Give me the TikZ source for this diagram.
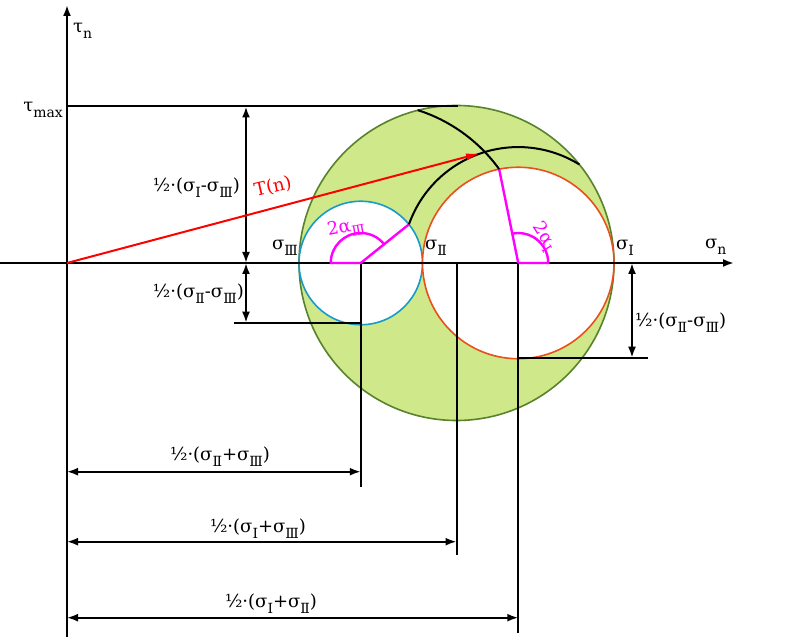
\documentclass[tikz,border=0pt]{standalone}
\usepackage{fontspec}
\setmainfont{DejaVu Serif}
\usetikzlibrary{arrows.meta}
\definecolor{circfill}{RGB}{206,232,138}
\definecolor{circline}{RGB}{88,130,44}
\definecolor{cblue}{RGB}{25,155,200}
\definecolor{corange}{RGB}{232,80,30}
\definecolor{magc}{RGB}{255,0,255}
\definecolor{redc}{RGB}{255,0,0}
\newcommand\lo[1]{\raisebox{-0.3em}{\fontsize{14}{15}\selectfont #1}}
\begin{document}
\begin{tikzpicture}[x=1pt,y=1pt,
  lbl/.style={inner sep=0pt, font=\fontsize{18}{20}\selectfont},
  blk/.style={line width=2pt},
  tipk/.tip={Latex[length=11pt,width=8pt]},
  dim/.style={line width=2pt, tipk-tipk},
  axis/.style={line width=2pt, -tipk},
  mag/.style={magc, line width=2.4pt},
  circ/.style={line width=1.6pt}]
\useasboundingbox (0,0) rectangle (800,639);
% key points
\coordinate (O) at (67,376);
\coordinate (C1) at (360.75,376);
\coordinate (C2) at (456.5,376);
\coordinate (C3) at (518.25,376);
% circles
\fill[circfill, draw=circline, circ] (C2) circle (157.5);
\fill[white, draw=cblue, circ] (C1) circle (61.75);
\fill[white, draw=corange, circ] (C3) circle (95.75);
% axes
\coordinate (xs) at (0,376);
\coordinate (xe) at (734,376);
\coordinate (ys) at (67,2);
\coordinate (ye) at (67,634);
\draw[axis] (xs) -- (xe);
\draw[axis] (ys) -- (ye);
% tau max line
\coordinate (tm) at (67,532.5);
\coordinate (tme) at (458,532.5);
\draw[blk] (tm) -- (tme);
% left vertical dimensions
\coordinate (d1t) at (246,532.5);
\coordinate (d1b) at (246,376);
\coordinate (d2b) at (246,316.3);
\draw[dim] (d1t) -- (d1b);
\draw[dim] (d1b) -- (d2b);
\coordinate (h1s) at (234,316.3);
\coordinate (h1e) at (360.75,316.3);
\draw[blk] (h1s) -- (h1e);
% right vertical dimension
\coordinate (d3t) at (632,376);
\coordinate (d3b) at (632,281.3);
\draw[dim] (d3t) -- (d3b);
\coordinate (h2s) at (518.25,281.3);
\coordinate (h2e) at (648,281.3);
\draw[blk] (h2s) -- (h2e);
% vertical drop lines
\coordinate (v1) at (360.75,152.3);
\coordinate (v2) at (456.5,84);
\coordinate (v3) at (518.25,6);
\draw[blk] (C1) -- (v1);
\draw[blk] (C2) -- (v2);
\draw[blk] (C3) -- (v3);
% horizontal dimensions
\coordinate (a1) at (67,167.3);
\coordinate (b1) at (360.75,167.3);
\coordinate (a2) at (67,97.3);
\coordinate (b2) at (456.5,97.3);
\coordinate (a3) at (67,21.3);
\coordinate (b3) at (518.25,21.3);
\draw[dim] (a1) -- (b1);
\draw[dim] (a2) -- (b2);
\draw[dim] (a3) -- (b3);
% construction points
\path (C1) ++(38.7:61.75) coordinate (P3);
\path (C3) ++(101.5:95.75) coordinate (P1);
\coordinate (Q) at (484.86,487.02);
% magenta angles
\draw[mag] (C1) -- (P3);
\draw[mag] (C1) -- ++(-30,0) arc[start angle=180, end angle=38.7, radius=30];
\draw[mag] (C3) -- (P1);
\draw[mag] (C3) -- ++(30,0) arc[start angle=0, end angle=101.5, radius=30];
% black arcs
\draw[blk] (P3) arc[start angle=160.55, end angle=58.16, radius=115.93];
\draw[blk] (P1) arc[start angle=35.79, end angle=72.34, radius=160.46];
% red vector
\draw[redc, line width=2pt, -{Latex[length=14pt,width=7pt]}, shorten >=5pt] (O) -- (Q);
% labels
\node[lbl, anchor=base west] (taun) at (73,606) {τ\lo{n}};
\node[lbl, anchor=base east] (taumax) at (63,527) {τ\lo{max}};
\node[lbl, anchor=base west] (sign) at (705,390) {σ\lo{n}};
\node[lbl, anchor=base east] (s3) at (298,389) {σ\lo{Ⅲ}};
\node[lbl, anchor=base west] (s2) at (425,389) {σ\lo{Ⅱ}};
\node[lbl, anchor=base west] (s1) at (616,389) {σ\lo{Ⅰ}};
\node[lbl, anchor=base east] (l4) at (240,447) {½·(σ\lo{Ⅰ}-σ\lo{Ⅲ})};
\node[lbl, anchor=base east] (l5) at (244,341) {½·(σ\lo{Ⅱ}-σ\lo{Ⅲ})};
\node[lbl, anchor=base west] (l6) at (635,312) {½·(σ\lo{Ⅱ}-σ\lo{Ⅲ})};
\node[lbl, anchor=base] (l1) at (220,178) {½·(σ\lo{Ⅱ}+σ\lo{Ⅲ})};
\node[lbl, anchor=base] (l2) at (258,106) {½·(σ\lo{Ⅰ}+σ\lo{Ⅲ})};
\node[lbl, anchor=base] (l3) at (271,31) {½·(σ\lo{Ⅰ}+σ\lo{Ⅱ})};
\node[lbl, redc, rotate=13] (tn) at (273,452) {T(n)};
\node[lbl, magc, rotate=10] (a3l) at (346,411) {2α\lo{Ⅲ}};
\node[lbl, magc, rotate=-57] (a1l) at (544,402) {2α\lo{Ⅰ}};
\end{tikzpicture}
\end{document}
